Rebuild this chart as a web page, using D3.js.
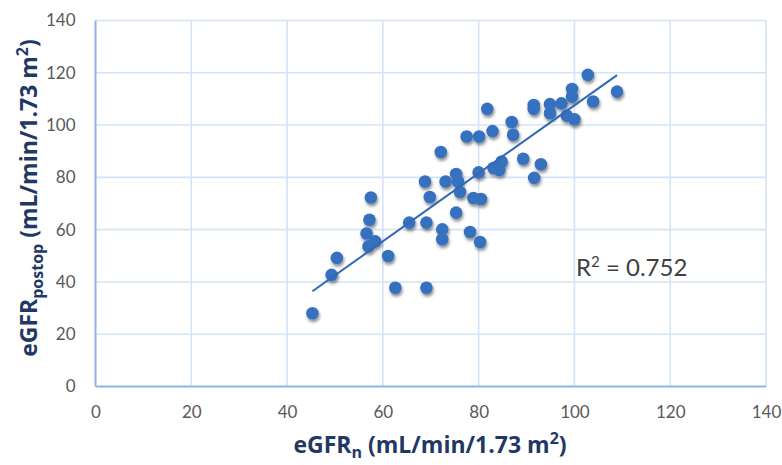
<!DOCTYPE html>
<html lang="en">
<head>
<meta charset="UTF-8" />
<title>eGFR scatter</title>
<script src="https://d3js.org/d3.v7.min.js"></script>
<style>
    body { margin: 0; background: #fff; }
    svg { display: block; background: #fff; }
    .tick text { font-family: Lato, "Open Sans", sans-serif; font-size: 17px; fill: #595959; }
    .axis-title { font-family: "Open Sans", Lato, sans-serif; font-weight: bold; fill: #1f3864; }
</style>
</head>
<body>
<svg id="chart" width="782" height="465"></svg>
<script>
    // x = eGFRn, y = eGFRpostop
    const xVals = [45.3, 49.3, 50.4, 56.6, 58.4, 57.0, 57.2, 57.5, 61.1, 62.6,
        65.5, 69.1, 69.1, 72.4, 72.4, 75.3, 78.2, 80.3, 68.8, 73.1,
        75.3, 75.7, 69.8, 76.1, 78.9, 80.5, 72.1, 80.0, 83.1, 84.3,
        84.8, 89.3, 93.0, 91.6, 77.5, 80.1, 81.8, 82.9, 86.9, 87.2,
        91.5, 91.5, 94.9, 94.9, 97.3, 98.4, 100.0, 99.5, 99.5, 102.8,
        103.9, 108.9];
    const yVals = [28.0, 42.7, 49.2, 58.5, 55.5, 53.6, 63.8, 72.3, 49.9, 37.8,
        62.7, 62.7, 37.8, 60.1, 56.3, 66.5, 59.1, 55.3, 78.4, 78.4,
        81.3, 78.4, 72.5, 74.4, 72.1, 71.7, 89.7, 81.9, 83.6, 82.8,
        86.0, 87.1, 85.0, 79.8, 95.6, 95.6, 106.2, 97.7, 101.2, 96.3,
        107.7, 106.2, 108.0, 104.5, 108.3, 103.6, 102.2, 113.8, 110.9, 119.2,
        109.0, 112.8];
    const xTicks = [0, 20, 40, 60, 80, 100, 120, 140];
    const yTicks = [0, 20, 40, 60, 80, 100, 120, 140];
    const rSquared = "0.752";

    const svg = d3.select("#chart");
    const margin = { top: 20.5, right: 16, bottom: 78.5, left: 95.5 };
    const width = 782, height = 465;

    const x = d3.scaleLinear().domain([0, 140]).range([margin.left, width - margin.right]);
    const y = d3.scaleLinear().domain([0, 140]).range([height - margin.bottom, margin.top]);

    const defs = svg.append("defs");
    const shadow = defs.append("filter").attr("id", "shadow")
        .attr("x", "-50%").attr("y", "-50%").attr("width", "200%").attr("height", "200%");
    shadow.append("feDropShadow")
        .attr("dx", 1).attr("dy", 2.5).attr("stdDeviation", 1.6)
        .attr("flood-color", "#000").attr("flood-opacity", 0.45);

    // grid
    svg.append("g").selectAll("line").data(xTicks.slice(1)).join("line")
        .attr("x1", d => x(d)).attr("x2", d => x(d))
        .attr("y1", y(0)).attr("y2", y(140))
        .attr("stroke", "#d4e3f6").attr("stroke-width", 1.6);
    svg.append("g").selectAll("line").data(yTicks.slice(1)).join("line")
        .attr("x1", x(0)).attr("x2", x(140))
        .attr("y1", d => y(d)).attr("y2", d => y(d))
        .attr("stroke", "#d4e3f6").attr("stroke-width", 1.6);

    // axis lines
    svg.append("line").attr("x1", x(0)).attr("x2", x(0)).attr("y1", y(0)).attr("y2", y(140))
        .attr("stroke", "#8fb3e3").attr("stroke-width", 2);
    svg.append("line").attr("x1", x(0)).attr("x2", x(140)).attr("y1", y(0)).attr("y2", y(0))
        .attr("stroke", "#8fb3e3").attr("stroke-width", 2);

    // tick labels
    const xAxis = svg.append("g")
        .attr("transform", `translate(0,${y(0)})`)
        .call(d3.axisBottom(x).tickValues(xTicks).tickSize(0).tickPadding(19));
    xAxis.select(".domain").remove();

    const yAxis = svg.append("g")
        .attr("transform", `translate(${x(0)},0)`)
        .call(d3.axisLeft(y).tickValues(yTicks).tickSize(0).tickPadding(20));
    yAxis.select(".domain").remove();
    svg.selectAll(".tick text").attr("font-family", null).attr("font-size", null).attr("fill", null);

    // linear trendline (least squares)
    const n = xVals.length;
    const mx = d3.mean(xVals), my = d3.mean(yVals);
    let sxy = 0, sxx = 0;
    for (let i = 0; i < n; i++) {
        sxy += (xVals[i] - mx) * (yVals[i] - my);
        sxx += (xVals[i] - mx) ** 2;
    }
    const slope = sxy / sxx;
    const icpt = my - slope * mx;
    const [x0, x1] = d3.extent(xVals);

    // points
    const pts = xVals.map((v, i) => ({ x: v, y: yVals[i] }));
    svg.append("g").attr("filter", "url(#shadow)")
        .selectAll("circle").data(pts).join("circle")
        .attr("cx", d => x(d.x)).attr("cy", d => y(d.y))
        .attr("r", 6.3)
        .attr("fill", "#3671bf");

    svg.append("line")
        .attr("x1", x(x0)).attr("y1", y(slope * x0 + icpt))
        .attr("x2", x(x1)).attr("y2", y(slope * x1 + icpt))
        .attr("stroke", "#3268b4").attr("stroke-width", 2);

    // R² label
    const rt = svg.append("text")
        .attr("x", 576).attr("y", 276)
        .attr("font-family", "Lato, 'Open Sans', sans-serif")
        .attr("font-size", 24).attr("fill", "#404040");
    rt.append("tspan").text("R");
    rt.append("tspan").attr("font-size", 15).attr("dy", -9).text("2");
    rt.append("tspan").attr("dy", 9).text(" = " + rSquared);

    // axis titles
    const xt = svg.append("text").attr("class", "axis-title")
        .attr("x", 430).attr("y", 453).attr("text-anchor", "middle")
        .attr("font-size", 23);
    xt.append("tspan").text("eGFR");
    xt.append("tspan").attr("font-size", 16).attr("dy", 5).text("n");
    xt.append("tspan").attr("dy", -5).text(" (mL/min/1.73 m");
    xt.append("tspan").attr("font-size", 16).attr("dy", -9).text("2");
    xt.append("tspan").attr("dy", 9).text(")");

    const yt = svg.append("text").attr("class", "axis-title")
        .attr("transform", "translate(37,198) rotate(-90)")
        .attr("text-anchor", "middle")
        .attr("font-size", 23);
    yt.append("tspan").text("eGFR");
    yt.append("tspan").attr("font-size", 16).attr("dy", 6).text("postop");
    yt.append("tspan").attr("dy", -6).text(" (mL/min/1.73 m");
    yt.append("tspan").attr("font-size", 16).attr("dy", -9).text("2");
    yt.append("tspan").attr("dy", 9).text(")");
</script>
</body>
</html>
